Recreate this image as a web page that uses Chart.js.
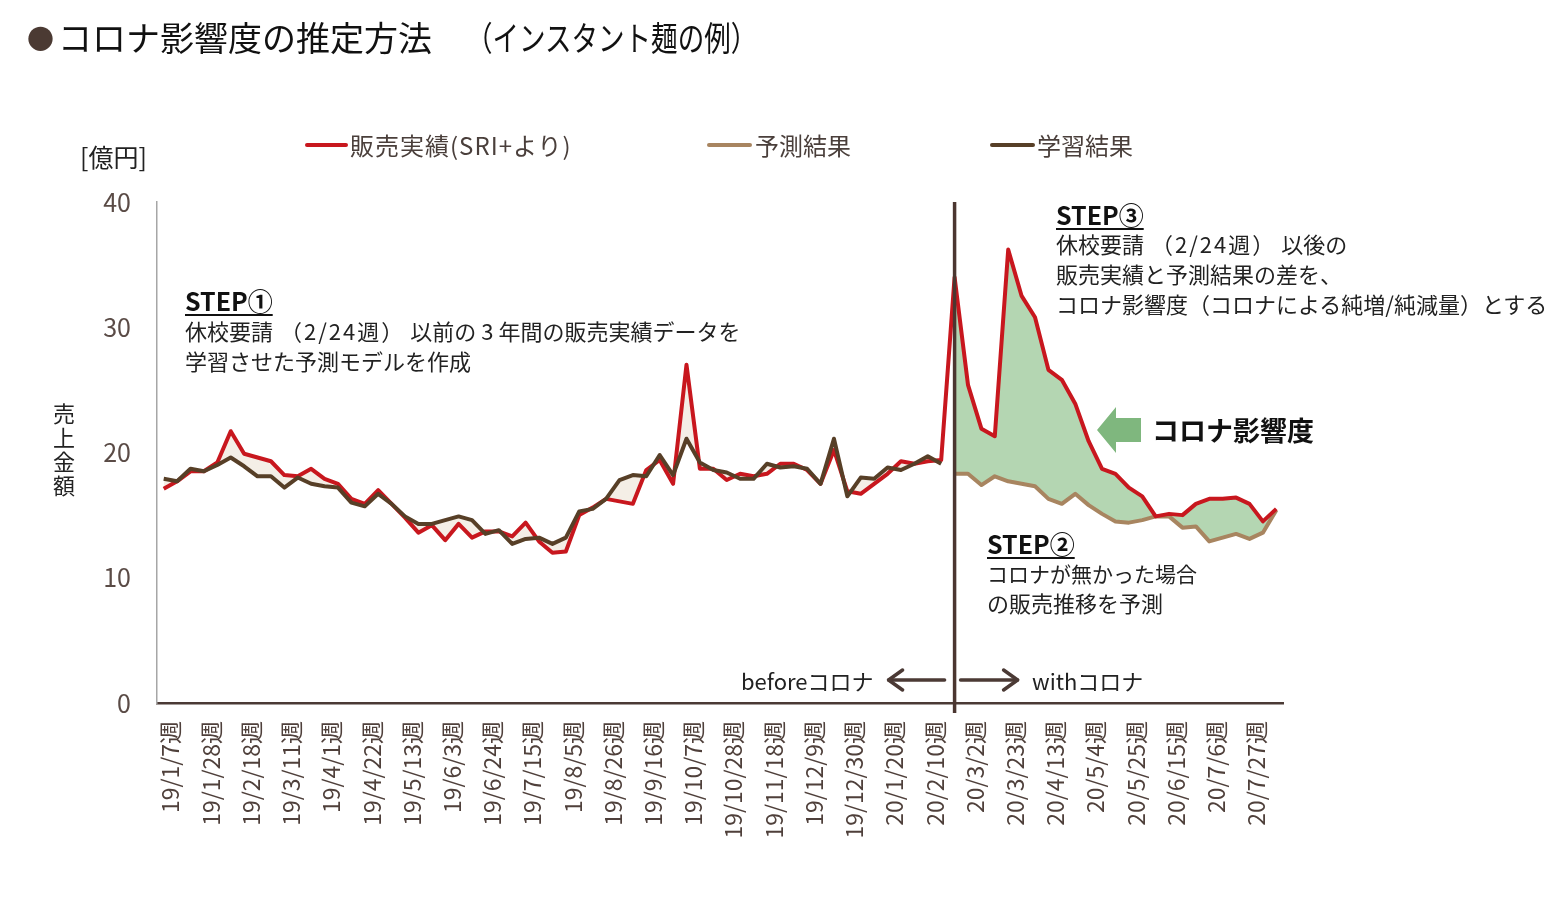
<!DOCTYPE html>
<html lang="ja">
<head>
<meta charset="utf-8">
<script src="https://cdn.jsdelivr.net/npm/chart.js@4/dist/chart.umd.min.js"></script>
<style>
  html, body { margin:0; padding:0; background:#fff; }
  body { width:1561px; height:912px; position:relative; overflow:hidden;
         font-family:"Noto Sans CJK JP","Noto Sans",sans-serif; }
  #c { position:absolute; left:0; top:0; }
  .t { position:absolute; white-space:nowrap; line-height:30px; color:#222; }
  .step { font-weight:bold; font-size:25px; text-decoration:underline; text-underline-offset:3px; text-decoration-thickness:1.5px; color:#111; }
  .body { font-size:22px; }
  .p { padding:0 5px 0 7px; letter-spacing:2px; }
  .d { padding:0 5px; }
  .leg { position:absolute; font-size:24px; color:#4a3f3b; line-height:30px; white-space:nowrap; }
  .sw { position:absolute; height:4px; border-radius:2px; }
</style>
</head>
<body>
<canvas id="c" width="1561" height="912"></canvas>

<div class="t" style="left:27px;top:16px;font-size:34px;line-height:42px;color:#111;"><span style="color:#4b3a33;font-size:27px;vertical-align:2px;margin-right:4px;">●</span>コロナ影響度の推定方法<span style="display:inline-block;transform:scaleX(0.78);transform-origin:left center;margin-left:34px;">（インスタント麺の例）</span></div>

<div class="sw" style="left:305px;top:143px;width:43px;background:#C8171E"></div>
<div class="leg" style="left:350px;top:130px;letter-spacing:1px;">販売実績(SRI+より)</div>
<div class="sw" style="left:707px;top:143px;width:45px;background:#A88560"></div>
<div class="leg" style="left:755px;top:130px;">予測結果</div>
<div class="sw" style="left:990px;top:143px;width:45px;background:#573F27"></div>
<div class="leg" style="left:1037px;top:130px;">学習結果</div>

<div class="t" style="left:80px;top:141px;font-size:25px;color:#222;">[億円]</div>
<div class="t" style="left:52px;top:403px;font-size:22px;line-height:24px;letter-spacing:2px;writing-mode:vertical-rl;color:#222;">売上金額</div>

<div class="t step" style="left:185px;top:285px;">STEP①</div>
<div class="t body" style="left:185px;top:315px;">休校要請<span class="p">（2/24週）</span>以前の<span class="d">3</span>年間の販売実績データを</div>
<div class="t body" style="left:185px;top:345px;">学習させた予測モデルを作成</div>

<div class="t step" style="left:1056px;top:199px;">STEP③</div>
<div class="t body" style="left:1056px;top:228px;">休校要請<span class="p">（2/24週）</span>以後の</div>
<div class="t body" style="left:1056px;top:258px;">販売実績と予測結果の差を、</div>
<div class="t body" style="left:1056px;top:288px;">コロナ影響度（コロナによる純増/純減量）とする</div>

<div class="t step" style="left:987px;top:528px;">STEP②</div>
<div class="t body" style="left:987px;top:558px;font-size:21px;">コロナが無かった場合</div>
<div class="t body" style="left:987px;top:587px;">の販売推移を予測</div>

<div class="t body" style="left:741px;top:665px;">beforeコロナ</div>
<div class="t body" style="left:1032px;top:665px;">withコロナ</div>

<div class="t" style="left:1152px;top:413px;font-size:27px;line-height:34px;font-weight:bold;color:#111;">コロナ影響度</div>

<script>
// ---- data ----
const weeks = [
 '19/1/7週','19/1/14週','19/1/21週','19/1/28週','19/2/4週','19/2/11週','19/2/18週','19/2/25週',
 '19/3/4週','19/3/11週','19/3/18週','19/3/25週','19/4/1週','19/4/8週','19/4/15週','19/4/22週',
 '19/4/29週','19/5/6週','19/5/13週','19/5/20週','19/5/27週','19/6/3週','19/6/10週','19/6/17週',
 '19/6/24週','19/7/1週','19/7/8週','19/7/15週','19/7/22週','19/7/29週','19/8/5週','19/8/12週',
 '19/8/19週','19/8/26週','19/9/2週','19/9/9週','19/9/16週','19/9/23週','19/9/30週','19/10/7週',
 '19/10/14週','19/10/21週','19/10/28週','19/11/4週','19/11/11週','19/11/18週','19/11/25週','19/12/2週',
 '19/12/9週','19/12/16週','19/12/23週','19/12/30週',
 '20/1/6週','20/1/13週','20/1/20週','20/1/27週','20/2/3週','20/2/10週','20/2/17週','20/2/24週',
 '20/3/2週','20/3/9週','20/3/16週','20/3/23週','20/3/30週','20/4/6週','20/4/13週','20/4/20週',
 '20/4/27週','20/5/4週','20/5/11週','20/5/18週','20/5/25週','20/6/1週','20/6/8週','20/6/15週',
 '20/6/22週','20/6/29週','20/7/6週','20/7/13週','20/7/20週','20/7/27週','20/8/3週','20/8/10週'
];
const tickLabels = [
 '19/1/7週','19/1/28週','19/2/18週','19/3/11週','19/4/1週','19/4/22週','19/5/13週','19/6/3週',
 '19/6/24週','19/7/15週','19/8/5週','19/8/26週','19/9/16週','19/10/7週','19/10/28週','19/11/18週',
 '19/12/9週','19/12/30週','20/1/20週','20/2/10週','20/3/2週','20/3/23週','20/4/13週','20/5/4週',
 '20/5/25週','20/6/15週','20/7/6週','20/7/27週'
];
// 販売実績 (SRI+より), 億円
const actual = [
 17.1,17.7,18.5,18.5,19.2,21.7,19.9,19.6,19.3,18.2,18.1,18.7,17.9,17.5,16.3,15.9,
 17.0,15.9,14.8,13.6,14.2,13.0,14.3,13.2,13.7,13.7,13.3,14.4,12.9,12.0,12.1,15.0,
 15.6,16.3,16.1,15.9,18.6,19.4,17.5,27.0,18.7,18.7,17.8,18.3,18.1,18.3,19.1,19.1,
 18.6,17.5,20.2,16.9,16.7,17.5,18.3,19.3,19.1,19.3,19.4,
 34.0,25.4,21.9,21.3,36.2,32.5,30.8,26.6,25.8,23.9,20.9,18.7,18.3,17.2,16.5,14.9,
 15.1,15.0,15.9,16.3,16.3,16.4,15.9,14.5,15.5
];
// 学習結果 (19/1/7週 〜 20/2/17週)
const learned = [
 17.9,17.7,18.7,18.5,19.0,19.6,18.9,18.1,18.1,17.2,18.0,17.5,17.3,17.2,16.0,15.7,
 16.7,15.9,14.9,14.3,14.3,14.6,14.9,14.6,13.5,13.8,12.7,13.1,13.2,12.7,13.2,15.3,
 15.5,16.3,17.8,18.2,18.1,19.8,18.2,21.1,19.2,18.6,18.4,17.9,17.9,19.1,18.8,18.9,
 18.7,17.5,21.1,16.5,18.0,17.9,18.8,18.6,19.1,19.7,19.1
];
// 予測結果 (20/2/24週 〜 20/8/10週)
const predicted = [
 18.3,18.3,17.4,18.1,17.7,17.5,17.3,16.3,15.9,16.7,15.8,15.1,14.5,14.4,14.6,14.9,
 14.9,14.0,14.1,12.9,13.2,13.5,13.1,13.6,15.4
];
const splitIndex = 59; // 20/2/24週 (休校要請)

// ---- build dataset arrays ----
const learnedFull = weeks.map((w,i) => i < learned.length ? learned[i] : null);
const predictedFull = weeks.map((w,i) => i >= splitIndex ? predicted[i - splitIndex] : null);
const actualPre = actual.map((v,i) => i < splitIndex ? v : null);
const actualPost = actual.map((v,i) => i >= splitIndex ? v : null);

const FONT = '"Noto Sans CJK JP","Noto Sans",sans-serif';

const decor = {
  id: 'decor',
  afterDatasetsDraw(chart) {
    const {ctx, chartArea, scales:{x}} = chart;
    const vx = x.getPixelForValue(splitIndex);
    ctx.save();
    // vertical divider
    ctx.strokeStyle = '#4B3630';
    ctx.lineWidth = 3.5;
    ctx.beginPath();
    ctx.moveTo(vx, chartArea.top);
    ctx.lineTo(vx, chartArea.bottom + 10);
    ctx.stroke();
    // before / with arrows
    const ay = 680;
    ctx.strokeStyle = '#4B3A35';
    ctx.lineWidth = 3.5;
    ctx.lineCap = 'round';
    ctx.lineJoin = 'round';
    let tip = vx - 66;
    ctx.beginPath(); ctx.moveTo(vx - 10, ay); ctx.lineTo(tip, ay); ctx.stroke();
    ctx.beginPath(); ctx.moveTo(tip + 14, ay - 10); ctx.lineTo(tip, ay); ctx.lineTo(tip + 14, ay + 10); ctx.stroke();
    tip = vx + 63;
    ctx.beginPath(); ctx.moveTo(vx + 6, ay); ctx.lineTo(tip, ay); ctx.stroke();
    ctx.beginPath(); ctx.moveTo(tip - 14, ay - 10); ctx.lineTo(tip, ay); ctx.lineTo(tip - 14, ay + 10); ctx.stroke();
    // green callout arrow
    ctx.fillStyle = '#7FB77E';
    ctx.beginPath();
    ctx.moveTo(1097, 430);
    ctx.lineTo(1116, 407);
    ctx.lineTo(1116, 418);
    ctx.lineTo(1141, 418);
    ctx.lineTo(1141, 442);
    ctx.lineTo(1116, 442);
    ctx.lineTo(1116, 453);
    ctx.closePath();
    ctx.fill();
    ctx.restore();
  }
};

new Chart(document.getElementById('c'), {
  type: 'line',
  data: {
    labels: weeks,
    datasets: [
      { label: '販売実績(SRI+より)', data: actual, borderColor: '#C8171E', borderWidth: 4,
        pointRadius: 0, fill: false, order: 2, tension: 0, borderJoinStyle: 'round' },
      { label: '予測結果', data: predictedFull, borderColor: '#A88560', borderWidth: 4,
        pointRadius: 0, fill: false, order: 3, tension: 0, borderJoinStyle: 'round' },
      { label: '学習結果', data: learnedFull, borderColor: '#573F27', borderWidth: 4,
        pointRadius: 0, fill: false, order: 1, tension: 0, borderJoinStyle: 'round' },
      { label: 'fillPre', data: actualPre, borderWidth: 0, borderColor: 'rgba(0,0,0,0)',
        backgroundColor: '#F4EEE6', pointRadius: 0, fill: { target: 2 }, order: 10 },
      { label: 'fillPost', data: actualPost, borderWidth: 0, borderColor: 'rgba(0,0,0,0)',
        backgroundColor: '#B4D6B2', pointRadius: 0, fill: { target: 1 }, order: 10 }
    ]
  },
  options: {
    responsive: false,
    animation: false,
    events: [],
    layout: { padding: { left: 0, right: 278, top: 202, bottom: 0 } },
    plugins: { legend: { display: false }, tooltip: { enabled: false } },
    scales: {
      x: {
        type: 'category',
        offset: true,
        grid: { display: false, drawTicks: false },
        border: { display: true, color: '#4B3A35', width: 2.5 },
        ticks: {
          autoSkip: false, maxRotation: 90, minRotation: 90, padding: 18, labelOffset: 7,
          color: '#4f403b', font: { size: 23, family: FONT },
          callback: function(v, i) { const l = weeks[i]; return tickLabels.includes(l) ? l : ''; }
        },
        afterFit(s) { s.height = 209; }
      },
      y: {
        min: 0, max: 40,
        grid: { display: false, drawTicks: false },
        border: { display: true, color: '#A6A6A6', width: 1.5 },
        ticks: { stepSize: 10, padding: 26, color: '#5a4b46', font: { size: 25, family: FONT } },
        afterFit(s) { s.width = 157; }
      }
    }
  },
  plugins: [decor]
});
</script>
</body>
</html>
